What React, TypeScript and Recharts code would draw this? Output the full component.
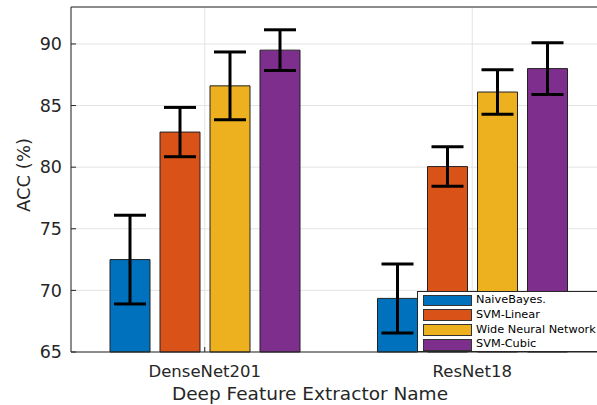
import React from 'react';
import {
  BarChart,
  Bar,
  XAxis,
  YAxis,
  CartesianGrid,
  ErrorBar,
  ReferenceLine,
} from 'recharts';

// Values
const extractors = ['DenseNet201', 'ResNet18'];
const naiveBayes = [72.5, 69.35];
const naiveBayesErr = [3.6, 2.8];
const svmLinear = [82.85, 80.05];
const svmLinearErr = [2.0, 1.6];
const wideNN = [86.6, 86.1];
const wideNNErr = [2.75, 1.8];
const svmCubic = [89.5, 88.0];
const svmCubicErr = [1.65, 2.1];
const yTicks = [65, 70, 75, 80, 85, 90];

const SERIES = [
  { key: 'nb', name: 'NaiveBayes.', color: '#0072BD' },
  { key: 'lin', name: 'SVM-Linear', color: '#D95319' },
  { key: 'wnn', name: 'Wide Neural Network', color: '#EDB120' },
  { key: 'cub', name: 'SVM-Cubic', color: '#7E2F8E' },
];

const data = extractors.map((name, i) => ({
  name,
  nb: naiveBayes[i],
  nbErr: naiveBayesErr[i],
  lin: svmLinear[i],
  linErr: svmLinearErr[i],
  wnn: wideNN[i],
  wnnErr: wideNNErr[i],
  cub: svmCubic[i],
  cubErr: svmCubicErr[i],
}));

const FONT = '"DejaVu Sans", "Liberation Sans", Arial, sans-serif';
const AXIS = '#262626';

const LegendBox = () => (
  <div
    style={{
      position: 'absolute',
      left: 417,
      top: 291,
      width: 200,
      height: 61,
      background: '#fff',
      border: `1px solid ${AXIS}`,
      boxSizing: 'border-box',
      paddingTop: 1,
      fontFamily: FONT,
      fontSize: 11.3,
      lineHeight: '14.8px',
      color: '#000',
    }}
  >
    {SERIES.map((s) => (
      <div
        key={s.key}
        style={{ display: 'flex', alignItems: 'center', height: 14.8, whiteSpace: 'nowrap' }}
      >
        <span
          style={{
            display: 'inline-block',
            width: 49,
            height: 11.5,
            marginLeft: 5,
            marginRight: 4,
            background: s.color,
            border: '1px solid #333',
            boxSizing: 'border-box',
          }}
        />
        <span>{s.name}</span>
      </div>
    ))}
  </div>
);

export default function App() {
  return (
    <div
      style={{
        position: 'fixed',
        left: 0,
        top: 0,
        width: 597,
        height: 405,
        overflow: 'hidden',
        background: '#fff',
      }}
    >
      <BarChart
        width={640}
        height={405}
        data={data}
        margin={{ top: 7, right: 34, left: 0, bottom: 0 }}
        barSize={40}
        barGap={10}
      >
        <CartesianGrid stroke="#e3e3e3" />
        <XAxis
          dataKey="name"
          height={53}
          stroke={AXIS}
          tickSize={-5}
          tickMargin={18}
          tick={{ fontSize: 16.5, fontFamily: FONT, fill: AXIS }}
          label={{
            content: () => (
              <text
                x={310}
                y={400}
                textAnchor="middle"
                fontSize={18.5}
                fontFamily={FONT}
                fill={AXIS}
              >
                Deep Feature Extractor Name
              </text>
            ),
          }}
        />
        <YAxis
          width={71}
          domain={[65, 93]}
          ticks={yTicks}
          stroke={AXIS}
          tickSize={-5}
          tickMargin={14}
          tick={{ fontSize: 17.5, fontFamily: FONT, fill: AXIS }}
          label={{
            content: () => (
              <text
                x={30}
                y={175}
                textAnchor="middle"
                transform="rotate(-90, 30, 175)"
                fontSize={18}
                fontFamily={FONT}
                fill={AXIS}
              >
                ACC (%)
              </text>
            ),
          }}
        />
        <ReferenceLine y={93} stroke={AXIS} />
        {SERIES.map((s) => (
          <Bar
            key={s.key}
            dataKey={s.key}
            name={s.name}
            fill={s.color}
            stroke="#222"
            strokeWidth={1}
            isAnimationActive={false}
          >
            <ErrorBar
              dataKey={`${s.key}Err`}
              width={16}
              stroke="#000"
              strokeWidth={3}
              isAnimationActive={false}
            />
          </Bar>
        ))}
      </BarChart>
      <LegendBox />
    </div>
  );
}
